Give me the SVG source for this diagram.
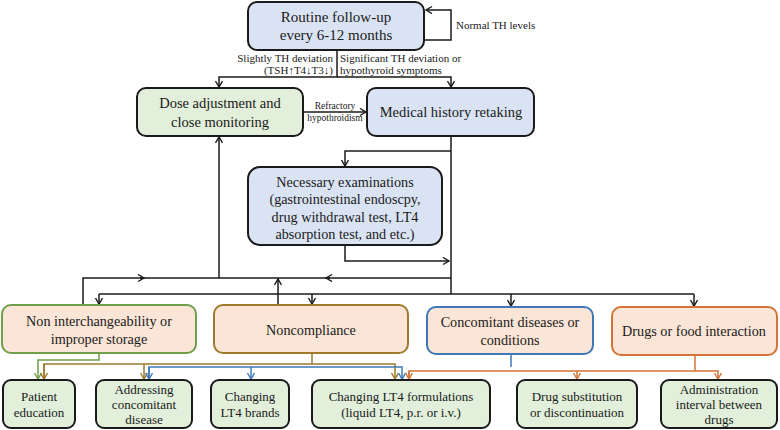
<svg xmlns="http://www.w3.org/2000/svg" width="780" height="430" viewBox="0 0 780 430">
<style>
text{font-family:"Liberation Serif","Times New Roman",serif;fill:#1a1a1a;text-anchor:middle}
.t15{font-size:15px}
.t145{font-size:14.5px}
.t14{font-size:14.2px}
.t13{font-size:13px}
.t11{font-size:11px}
.t9{font-size:9.5px}
.box{stroke:#1a1a1a;stroke-width:2}
.blue{fill:#dae3f3}
.green{fill:#e2efda}
.peach{fill:#fbe5d6;stroke-width:2}
.c{fill:none;stroke:#1a1a1a;stroke-width:1.5}
.cg{fill:none;stroke:#6f9f4a;stroke-width:1.5}
.cb{fill:none;stroke:#a07a2c;stroke-width:1.5}
.cl{fill:none;stroke:#3f78b8;stroke-width:1.5}
.co{fill:none;stroke:#d27536;stroke-width:1.5}
</style>
<defs>
<marker id="ak" markerWidth="10" markerHeight="10" refX="7" refY="4" orient="auto" markerUnits="userSpaceOnUse"><path d="M1,0.5 L7,4 L1,7.5" fill="none" stroke="#1a1a1a" stroke-width="1.4"/></marker>
<marker id="ag" markerWidth="10" markerHeight="10" refX="7" refY="4" orient="auto" markerUnits="userSpaceOnUse"><path d="M1,0.5 L7,4 L1,7.5" fill="none" stroke="#6f9f4a" stroke-width="1.4"/></marker>
<marker id="ab" markerWidth="10" markerHeight="10" refX="7" refY="4" orient="auto" markerUnits="userSpaceOnUse"><path d="M1,0.5 L7,4 L1,7.5" fill="none" stroke="#a07a2c" stroke-width="1.4"/></marker>
<marker id="al" markerWidth="10" markerHeight="10" refX="7" refY="4" orient="auto" markerUnits="userSpaceOnUse"><path d="M1,0.5 L7,4 L1,7.5" fill="none" stroke="#3f78b8" stroke-width="1.4"/></marker>
<marker id="ao" markerWidth="10" markerHeight="10" refX="7" refY="4" orient="auto" markerUnits="userSpaceOnUse"><path d="M1,0.5 L7,4 L1,7.5" fill="none" stroke="#d27536" stroke-width="1.4"/></marker>
</defs>

<g id="connectors">
<path class="c" d="M424,40 H451 V10 H426" marker-end="url(#ak)"/>
<path class="c" d="M337,50 V77 H219 V87" marker-end="url(#ak)"/>
<path class="c" d="M337,77 H451 V87" marker-end="url(#ak)"/>
<path class="c" d="M303,112 H366" marker-end="url(#ak)"/>
<path class="c" d="M451,136 V294"/>
<path class="c" d="M451,151 H345 V166" marker-end="url(#ak)"/>
<path class="c" d="M345,245 V261 H449" marker-end="url(#ak)"/>
<path class="c" d="M451,278 H326" marker-end="url(#ak)"/>
<path class="c" d="M330,278 H219"/>
<path class="c" d="M83,305 V278 H144" marker-end="url(#ak)"/>
<path class="c" d="M140,278 H219"/>
<path class="c" d="M219,278 V137" marker-end="url(#ak)"/>
<path class="c" d="M278,305 V279" marker-end="url(#ak)"/>
<path class="c" d="M99,294 H694"/>
<path class="c" d="M99,294 V304" marker-end="url(#ak)"/>
<path class="c" d="M312,294 V304" marker-end="url(#ak)"/>
<path class="c" d="M511,294 V306" marker-end="url(#ak)"/>
<path class="c" d="M694,294 V306" marker-end="url(#ak)"/>

<path class="cg" d="M99,353 V360 H38 V379" marker-end="url(#ag)"/>
<path class="cb" d="M312,353 V364"/>
<path class="cb" d="M44,379 V364 H395 V379" marker-end="url(#ab)"/>
<path class="cb" d="M44,364 V379" marker-end="url(#ab)"/>
<path class="cb" d="M144,364 V379" marker-end="url(#ab)"/>
<path class="cl" d="M511,354 V367"/>
<path class="cl" d="M149,379 V367 H402 V379" marker-end="url(#al)"/>
<path class="cl" d="M149,367 V379" marker-end="url(#al)"/>
<path class="cl" d="M251,367 V379" marker-end="url(#al)"/>
<path class="co" d="M695,355 V371"/>
<path class="co" d="M409,379 V371 H718 V379" marker-end="url(#ao)"/>
<path class="co" d="M409,371 V379" marker-end="url(#ao)"/>
<path class="co" d="M577,371 V379" marker-end="url(#ao)"/>

<text class="t11" x="456" y="29" style="text-anchor:start">Normal TH levels</text>
<text class="t11" x="333" y="62" style="text-anchor:end">Slightly TH deviation</text>
<text class="t11" x="333" y="74" style="text-anchor:end">(TSH↑T4↓T3↓)</text>
<text class="t11" x="340" y="62" style="text-anchor:start">Significant TH deviation or</text>
<text class="t11" x="340" y="74" style="text-anchor:start">hypothyroid symptoms</text>
<text class="t9" x="335" y="109">Refractory</text>
<text class="t9" x="335" y="121">hypothroidism</text>
</g>

<g id="routine">
<rect class="box blue" x="248" y="2" width="176" height="48" rx="9"/>
<text class="t15" x="336" y="22">Routine follow-up</text>
<text class="t15" x="336" y="40">every 6-12 months</text>
</g>
<g id="dose">
<rect class="box green" x="137" y="88" width="166" height="48" rx="9"/>
<text class="t145" x="220" y="108">Dose adjustment and</text>
<text class="t145" x="220" y="127">close monitoring</text>
</g>
<g id="medical">
<rect class="box blue" x="367" y="88" width="167" height="48" rx="9"/>
<text class="t145" x="451" y="117">Medical history retaking</text>
</g>
<g id="necessary">
<rect class="box blue" x="248" y="167" width="194" height="78" rx="12"/>
<text class="t14" x="345" y="187">Necessary examinations</text>
<text class="t14" x="345" y="204">(gastrointestinal endoscpy,</text>
<text class="t14" x="345" y="222">drug withdrawal test, LT4</text>
<text class="t14" x="345" y="239">absorption test, and etc.)</text>
</g>

<g id="noninterchangeability">
<rect class="peach" stroke="#6f9f4a" x="2" y="305" width="194" height="48" rx="9"/>
<text class="t14" x="99" y="326">Non interchangeability or</text>
<text class="t14" x="99" y="344">improper storage</text>
</g>
<g id="noncompliance">
<rect class="peach" stroke="#a07a2c" x="214" y="305" width="194" height="48" rx="9"/>
<text class="t14" x="311" y="335">Noncompliance</text>
</g>
<g id="concomitant">
<rect class="peach" stroke="#3f78b8" x="427" y="307" width="166" height="47" rx="9"/>
<text class="t14" x="510" y="327">Concomitant diseases or</text>
<text class="t14" x="510" y="345">conditions</text>
</g>
<g id="drugs">
<rect class="peach" stroke="#d27536" x="612" y="307" width="165" height="48" rx="9"/>
<text class="t14" x="694" y="336">Drugs or food interaction</text>
</g>

<g id="patient-education">
<rect class="box green" x="3" y="380" width="72" height="48" rx="8"/>
<text class="t13" x="39" y="401">Patient</text>
<text class="t13" x="39" y="417">education</text>
</g>
<g id="addressing">
<rect class="box green" x="96" y="380" width="96" height="48" rx="8"/>
<text class="t13" x="144" y="394">Addressing</text>
<text class="t13" x="144" y="409">concomitant</text>
<text class="t13" x="144" y="424">disease</text>
</g>
<g id="brands">
<rect class="box green" x="211" y="380" width="78" height="48" rx="8"/>
<text class="t13" x="250" y="401">Changing</text>
<text class="t13" x="250" y="417">LT4 brands</text>
</g>
<g id="formulations">
<rect class="box green" x="312" y="380" width="178" height="48" rx="8"/>
<text class="t13" x="401" y="401">Changing LT4 formulations</text>
<text class="t13" x="401" y="417">(liquid LT4, p.r. or i.v.)</text>
</g>
<g id="substitution">
<rect class="box green" x="517" y="380" width="120" height="48" rx="8"/>
<text class="t13" x="577" y="401">Drug substitution</text>
<text class="t13" x="577" y="417">or discontinuation</text>
</g>
<g id="administration">
<rect class="box green" x="661" y="380" width="116" height="48" rx="8"/>
<text class="t13" x="719" y="394">Administration</text>
<text class="t13" x="719" y="409">interval between</text>
<text class="t13" x="719" y="424">drugs</text>
</g>
</svg>
